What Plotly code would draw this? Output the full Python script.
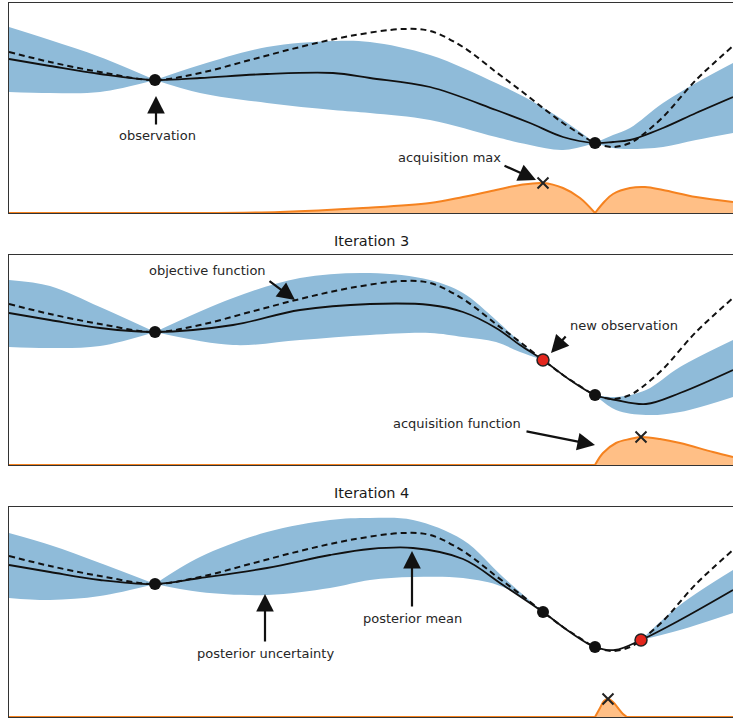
import plotly.graph_objects as go

# ---------------- data ----------------
X_RANGE = [0.0, 7.24]
Y_RANGE = [0.0, 2.10]

# objective function (same in every panel)
OBJ_X = [0.00, 0.41, 0.91, 1.46, 1.91, 2.41, 2.91, 3.41, 3.94, 4.21, 4.54, 4.87,
         5.11, 5.34, 5.54, 5.71, 5.86, 6.04, 6.21, 6.32, 6.54, 6.87, 7.24]
OBJ_Y = [1.61, 1.51, 1.41, 1.33, 1.40, 1.53, 1.66, 1.77, 1.84, 1.82, 1.66, 1.41,
         1.23, 1.05, 0.90, 0.79, 0.70, 0.66, 0.70, 0.77, 0.96, 1.33, 1.67]

# panel 1
P1_X = [0.00, 0.41, 0.91, 1.46, 1.91, 2.58, 3.24, 3.61, 4.21, 4.87, 5.21, 5.54,
        5.86, 6.04, 6.21, 6.54, 6.87, 7.24]
P1_MEAN = [1.54, 1.47, 1.39, 1.33, 1.35, 1.39, 1.40, 1.35, 1.26, 1.03, 0.90, 0.76,
           0.70, 0.71, 0.73, 0.85, 1.00, 1.16]
P1_UPPER = [1.86, 1.73, 1.56, 1.33, 1.48, 1.66, 1.72, 1.71, 1.58, 1.30, 1.13, 0.93,
            0.70, 0.78, 0.85, 1.10, 1.30, 1.50]
P1_LOWER = [1.21, 1.20, 1.21, 1.33, 1.20, 1.10, 1.03, 1.00, 0.93, 0.76, 0.68, 0.63,
            0.70, 0.65, 0.64, 0.66, 0.73, 0.80]
P1_OBS_X = [1.46, 5.86]
P1_OBS_Y = [1.33, 0.70]
P1_NEW_X = []
P1_NEW_Y = []
P1_ACQ_X = [0.00, 1.91, 2.71, 3.54, 4.21, 4.54, 4.87, 5.11, 5.34, 5.54, 5.71, 5.86,
            5.96, 6.04, 6.21, 6.36, 6.54, 6.87, 7.24]
P1_ACQ_Y = [0.00, 0.00, 0.01, 0.05, 0.10, 0.16, 0.23, 0.28, 0.30, 0.25, 0.15, 0.00,
            0.12, 0.19, 0.25, 0.26, 0.23, 0.16, 0.11]
P1_ACQ_MAX = [5.34, 0.30]

# panel 2 (Iteration 3)
P2_X = [0.00, 0.41, 0.91, 1.46, 2.24, 2.91, 3.61, 4.21, 4.54, 4.87, 5.11, 5.34,
        5.61, 5.86, 6.07, 6.37, 6.71, 7.24]
P2_MEAN = [1.52, 1.45, 1.37, 1.33, 1.40, 1.55, 1.61, 1.60, 1.53, 1.37, 1.20, 1.05,
           0.85, 0.70, 0.65, 0.61, 0.72, 0.95]
P2_UPPER = [1.85, 1.79, 1.58, 1.33, 1.67, 1.87, 1.92, 1.85, 1.72, 1.45, 1.23, 1.05,
            0.85, 0.70, 0.68, 0.75, 0.98, 1.25]
P2_LOWER = [1.18, 1.17, 1.19, 1.33, 1.20, 1.25, 1.30, 1.32, 1.28, 1.23, 1.13, 1.05,
            0.85, 0.70, 0.55, 0.50, 0.53, 0.68]
P2_OBS_X = [1.46, 5.86]
P2_OBS_Y = [1.33, 0.70]
P2_NEW_X = [5.34]
P2_NEW_Y = [1.05]
P2_ACQ_X = [0.00, 5.86, 5.94, 6.07, 6.21, 6.32, 6.51, 6.71, 7.04, 7.24]
P2_ACQ_Y = [0.00, 0.00, 0.12, 0.22, 0.26, 0.28, 0.26, 0.22, 0.13, 0.08]
P2_ACQ_MAX = [6.32, 0.28]

# panel 3 (Iteration 4)
P3_X = [0.00, 0.41, 0.91, 1.46, 1.91, 2.58, 3.21, 3.61, 4.04, 4.54, 4.94, 5.34,
        5.61, 5.86, 6.06, 6.32, 6.71, 7.24]
P3_MEAN = [1.52, 1.45, 1.37, 1.33, 1.39, 1.49, 1.62, 1.68, 1.69, 1.58, 1.32, 1.05,
           0.85, 0.70, 0.67, 0.77, 0.97, 1.27]
P3_UPPER = [1.84, 1.72, 1.54, 1.33, 1.60, 1.85, 1.97, 1.99, 1.97, 1.77, 1.40, 1.05,
            0.85, 0.70, 0.67, 0.77, 1.12, 1.47]
P3_LOWER = [1.19, 1.17, 1.21, 1.33, 1.25, 1.22, 1.29, 1.37, 1.40, 1.39, 1.30, 1.05,
            0.85, 0.70, 0.67, 0.77, 0.87, 1.04]
P3_OBS_X = [1.46, 5.34, 5.86]
P3_OBS_Y = [1.33, 1.05, 0.70]
P3_NEW_X = [6.32]
P3_NEW_Y = [0.77]
P3_ACQ_X = [0.00, 5.86, 5.91, 5.95, 5.99, 6.04, 6.09, 6.14, 6.18, 7.24]
P3_ACQ_Y = [0.00, 0.00, 0.09, 0.16, 0.18, 0.15, 0.09, 0.03, 0.00, 0.00]
P3_ACQ_MAX = [5.99, 0.18]

TITLES = ["", "Iteration 3", "Iteration 4"]

# annotations: (panel, text, text_x, text_y, tail_x, tail_y, tip_x, tip_y)
NOTES = [
    (1, "observation", 1.48, 0.78, 1.47, 0.87, 1.47, 1.17),
    (1, "acquisition max", 4.40, 0.56, 4.94, 0.48, 5.27, 0.33),
    (2, "objective function", 1.98, 1.95, 2.59, 1.85, 2.86, 1.65),
    (2, "new observation", 6.15, 1.40, 5.58, 1.30, 5.42, 1.12),
    (2, "acquisition function", 4.48, 0.42, 5.16, 0.34, 5.86, 0.20),
    (3, "posterior uncertainty", 2.56, 0.64, 2.56, 0.74, 2.56, 1.23),
    (3, "posterior mean", 4.03, 0.99, 4.03, 1.09, 4.03, 1.66),
]

# ---------------- styling ----------------
BAND = "rgb(143,187,217)"
ORANGE = "#f5821f"
ORANGE_FILL = "rgb(255,191,134)"
RED = "#e3261d"
TEXT = "#262626"
FONT = "DejaVu Sans"

PANELS = [
    (P1_X, P1_MEAN, P1_UPPER, P1_LOWER, P1_OBS_X, P1_OBS_Y, P1_NEW_X, P1_NEW_Y,
     P1_ACQ_X, P1_ACQ_Y, P1_ACQ_MAX),
    (P2_X, P2_MEAN, P2_UPPER, P2_LOWER, P2_OBS_X, P2_OBS_Y, P2_NEW_X, P2_NEW_Y,
     P2_ACQ_X, P2_ACQ_Y, P2_ACQ_MAX),
    (P3_X, P3_MEAN, P3_UPPER, P3_LOWER, P3_OBS_X, P3_OBS_Y, P3_NEW_X, P3_NEW_Y,
     P3_ACQ_X, P3_ACQ_Y, P3_ACQ_MAX),
]

W, H = 733, 718
M_L, M_R, M_T, M_B = 9, 0, 3, 1
plot_h = H - M_T - M_B
panel_px = 210
gap_px = 42
DOMAINS = []
for i in range(3):
    top = i * (panel_px + gap_px)
    bottom = top + panel_px
    DOMAINS.append([1 - bottom / plot_h, 1 - top / plot_h])

fig = go.Figure()


def split_at(xs, breaks):
    idx = [0] + [xs.index(b) for b in breaks if b in xs] + [len(xs) - 1]
    idx = sorted(set(idx))
    return [(idx[k], idx[k + 1]) for k in range(len(idx) - 1)]


for p, (px, mean, up, lo, ox, oy, nx, ny, ax_, ay_, amax) in enumerate(PANELS):
    xa = "x" if p == 0 else f"x{p + 1}"
    ya = "y" if p == 0 else f"y{p + 1}"
    breaks = sorted(ox + nx)
    # uncertainty band, one piece between consecutive observations
    for a, b in split_at(px, breaks):
        fig.add_trace(go.Scatter(x=px[a:b + 1], y=lo[a:b + 1], mode="lines",
                                 line=dict(width=0, shape="spline", color=BAND),
                                 xaxis=xa, yaxis=ya, showlegend=False, hoverinfo="skip"))
        fig.add_trace(go.Scatter(x=px[a:b + 1], y=up[a:b + 1], mode="lines",
                                 line=dict(width=0, shape="spline", color=BAND),
                                 fill="tonexty", fillcolor=BAND,
                                 xaxis=xa, yaxis=ya, showlegend=False, hoverinfo="skip"))
    # objective
    fig.add_trace(go.Scatter(x=OBJ_X, y=OBJ_Y, mode="lines",
                             line=dict(color="#111111", width=2, dash="6px,4px",
                                       shape="spline"),
                             xaxis=xa, yaxis=ya, showlegend=False))
    # posterior mean
    fig.add_trace(go.Scatter(x=px, y=mean, mode="lines",
                             line=dict(color="#111111", width=1.8, shape="spline"),
                             xaxis=xa, yaxis=ya, showlegend=False))
    # acquisition function: pieces between zero points
    zero_pts = [ax_[k] for k in range(len(ax_)) if ay_[k] == 0]
    for a, b in split_at(ax_, zero_pts):
        fig.add_trace(go.Scatter(x=ax_[a:b + 1], y=ay_[a:b + 1], mode="lines",
                                 line=dict(color=ORANGE, width=2, shape="spline"),
                                 fill="tozeroy", fillcolor=ORANGE_FILL,
                                 xaxis=xa, yaxis=ya, showlegend=False))
    # acquisition max marker
    fig.add_trace(go.Scatter(x=[amax[0]], y=[amax[1]], mode="markers",
                             marker=dict(symbol="x-thin", size=11,
                                         line=dict(width=2, color="#222222")),
                             xaxis=xa, yaxis=ya, showlegend=False, cliponaxis=False))
    # observations
    fig.add_trace(go.Scatter(x=ox, y=oy, mode="markers",
                             marker=dict(size=12, color="#111111"),
                             xaxis=xa, yaxis=ya, showlegend=False))
    if nx:
        fig.add_trace(go.Scatter(x=nx, y=ny, mode="markers",
                                 marker=dict(size=12, color=RED,
                                             line=dict(width=1.5, color="#222222")),
                                 xaxis=xa, yaxis=ya, showlegend=False))

layout = dict(
    width=W, height=H,
    margin=dict(l=M_L, r=M_R, t=M_T, b=M_B),
    paper_bgcolor="white", plot_bgcolor="white",
    font=dict(family=FONT, color=TEXT),
    showlegend=False,
)
for i in range(3):
    xk = "xaxis" if i == 0 else f"xaxis{i + 1}"
    yk = "yaxis" if i == 0 else f"yaxis{i + 1}"
    ya = "y" if i == 0 else f"y{i + 1}"
    xa = "x" if i == 0 else f"x{i + 1}"
    layout[xk] = dict(domain=[0, 1], range=X_RANGE, anchor=ya, showgrid=False,
                      zeroline=False, showticklabels=False, ticks="",
                      showline=True, mirror=True, linecolor="#333333", linewidth=1.2)
    layout[yk] = dict(domain=DOMAINS[i], range=Y_RANGE, anchor=xa, showgrid=False,
                      zeroline=False, showticklabels=False, ticks="",
                      showline=True, mirror=False, linecolor="#333333", linewidth=1.2)

annotations = []
for i, t in enumerate(TITLES):
    if t:
        annotations.append(dict(text=t, xref="paper", yref="paper", x=0.5,
                                y=DOMAINS[i][1], yanchor="bottom", yshift=4,
                                showarrow=False,
                                font=dict(size=14.5, color="#1a1a1a", family=FONT)))
for (panel, text, tx, ty, tlx, tly, tpx, tpy) in NOTES:
    xa = "x" if panel == 1 else f"x{panel}"
    ya = "y" if panel == 1 else f"y{panel}"
    annotations.append(dict(text=text, x=tx, y=ty, xref=xa, yref=ya,
                            showarrow=False, xanchor="center", yanchor="middle",
                            font=dict(size=13, color=TEXT, family=FONT)))
    annotations.append(dict(text="", x=tpx, y=tpy, ax=tlx, ay=tly, xref=xa, yref=ya,
                            axref=xa, ayref=ya, showarrow=True, arrowhead=2,
                            arrowsize=1.6, arrowwidth=2.2, arrowcolor="#111111"))
layout["annotations"] = annotations

fig.update_layout(**layout)
fig.write_html("out.html",
               config={"displayModeBar": False},
               post_script="document.body.style.margin='0';"
                           "document.body.style.padding='0';")
